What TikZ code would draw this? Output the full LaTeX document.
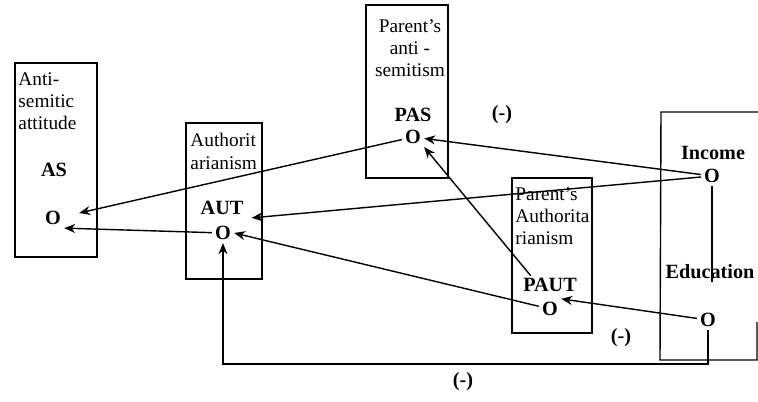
\documentclass[tikz,border=0pt]{standalone}
\usepackage{fontspec}
\setmainfont{Liberation Serif}
\usetikzlibrary{arrows.meta,positioning}

\begin{document}
\begin{tikzpicture}[x=0.02cm, y=-0.02cm, line width=0.8pt,
  >={Stealth[length=2.2mm,width=1.8mm]},
  lbl/.style={inner sep=1pt, font=\fontsize{11}{12.6}\selectfont},
  var/.style={inner sep=1pt, font=\fontsize{11.5}{13}\selectfont\bfseries},
  pt/.style={inner sep=1.5pt, font=\fontsize{11.5}{13}\selectfont\bfseries}]
\useasboundingbox (0,0) rectangle (758,402);
\draw (15,63) rectangle (97,257);
\draw (186,123) rectangle (262,279);
\draw (366,5) rectangle (448,178);
\draw (512,178) rectangle (592,333);
\draw (757,322) -- (757,360) -- (660,360) -- (661,112) -- (758,112);
\node[lbl, align=left, anchor=north west] (aslbl) at (16,70) {Anti-\\semitic\\attitude};
\node[lbl, align=left, anchor=north west] (autlbl) at (188,131) {Authorit\\arianism};
\node[lbl, align=center, anchor=north] (paslbl) at (410,17) {Parent's\\anti -\\semitism};
\node[lbl, align=left, anchor=north west] (pautlbl) at (513,185) {Parent's\\Authorita\\rianism};
\node[var] (asvar) at (54,170) {AS};
\node[var] (autvar) at (222,208) {AUT};
\node[var] (pasvar) at (413,115) {PAS};
\node[var] (pautvar) at (550,285) {PAUT};
\node[var] (incvar) at (713,153) {Income};
\node[var] (eduvar) at (710,272) {Education};
\node[pt] (as) at (53,218) {O};
\node[pt] (aut) at (223,233) {O};
\node[pt] (pas) at (413,137) {O};
\node[pt] (paut) at (550,309) {O};
\node[pt] (inc) at (712,176) {O};
\node[pt] (edu) at (708,320) {O};
\node[var] (neg1) at (502,115) {(-)};
\node[var] (neg2) at (621,338) {(-)};
\node[var] (neg3) at (463,382) {(-)};
\coordinate (base) at (0,364);
\draw[->] (inc) -- (pas);
\draw[->] (pas) -- ([xshift=3mm, yshift=1mm]as.east);
\draw[->] (inc) -- ([xshift=3.5mm, yshift=1mm]aut.north east);
\draw[->] (aut) -- (as.south east);
\draw[->] ([xshift=2mm]pautvar.north west) -- (pas.south east);
\draw[->] (paut) -- (aut.east);
\draw[->] (edu) -- (paut.north east);
\draw (inc) -- (inc |- eduvar.south);
\draw[->] (edu) -- (edu |- base) -| (aut);
\end{tikzpicture}
\end{document}
